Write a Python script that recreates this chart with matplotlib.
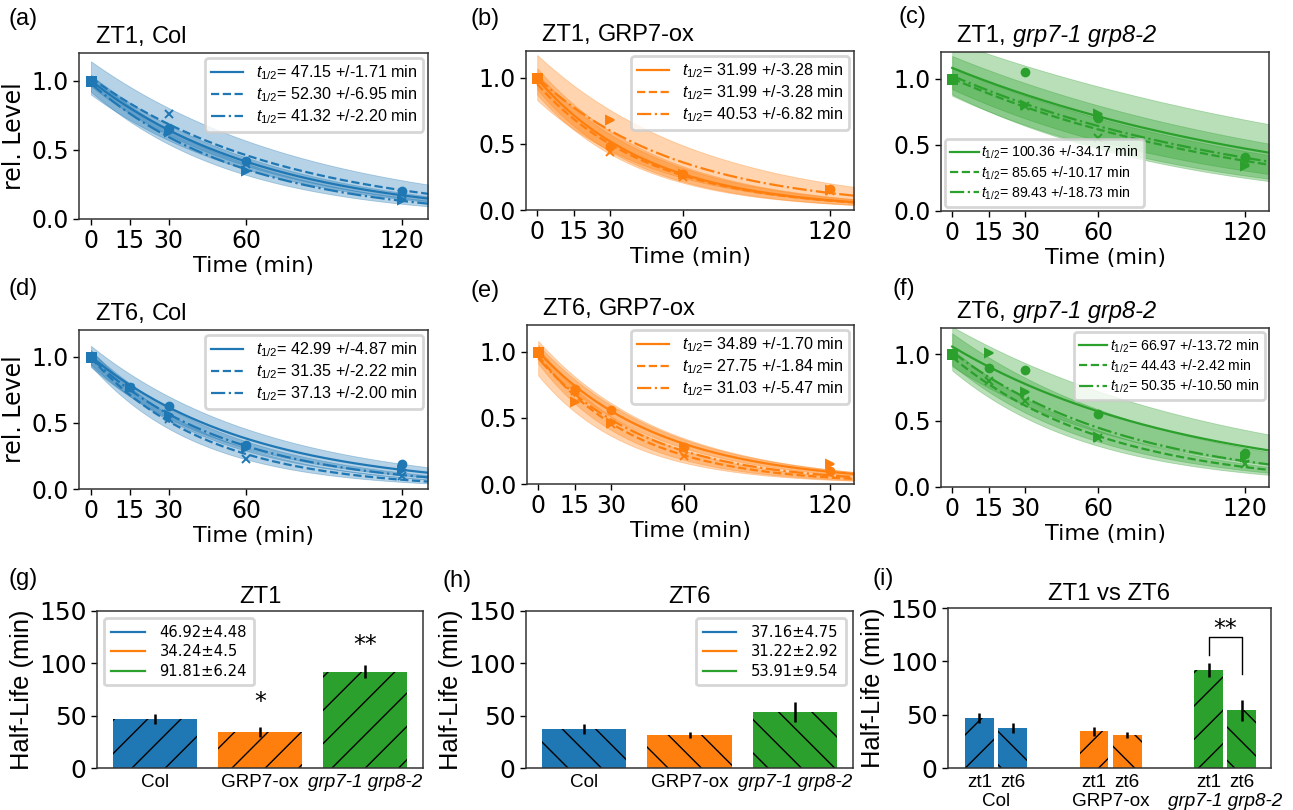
import numpy as np
import matplotlib
matplotlib.use('Agg')
import matplotlib.pyplot as plt
from matplotlib.lines import Line2D

plt.rcParams['mathtext.fontset'] = 'custom'
plt.rcParams['mathtext.rm'] = 'Liberation Sans'
plt.rcParams['mathtext.it'] = 'Liberation Sans:italic'
plt.rcParams['hatch.linewidth'] = 0.5
plt.rcParams['axes.linewidth'] = 0.55
plt.rcParams['axes.edgecolor'] = '#333333'

W, H, DPI = 1293, 810, 200
BLUE, ORANGE, GREEN = '#1f77b4', '#ff7f0e', '#2ca02c'
SANS = 'Liberation Sans'

# sampling times (min)
time_zt1 = [0, 30, 60, 120]
time_zt6 = [0, 15, 30, 60, 120]

# rel. level, one list per replicate (marker o, x, >)
a_level = [[1.0, 0.66, 0.42, 0.20], [1.0, 0.76, 0.40, 0.18], [1.0, 0.63, 0.35, 0.14]]
b_level = [[1.0, 0.48, 0.27, 0.16], [1.0, 0.44, 0.25, 0.14], [1.0, 0.68, 0.27, 0.15]]
c_level = [[1.0, 1.05, 0.70, 0.41], [1.0, 0.79, 0.55, 0.38], [1.0, 0.80, 0.73, 0.34]]
d_level = [[1.0, 0.77, 0.63, 0.33, 0.19], [1.0, 0.76, 0.53, 0.23, 0.10], [1.0, 0.76, 0.56, 0.31, 0.14]]
e_level = [[1.0, 0.72, 0.56, 0.28, 0.10], [1.0, 0.70, 0.45, 0.21, 0.08], [1.0, 0.62, 0.46, 0.28, 0.15]]
f_level = [[1.0, 0.90, 0.88, 0.55, 0.26], [1.0, 0.80, 0.65, 0.37, 0.17], [1.0, 1.01, 0.72, 0.38, 0.23]]

# fitted half-lives +/- error and fitted start level +/- error
a_thalf, a_terr = [47.15, 52.30, 41.32], [1.71, 6.95, 2.20]
b_thalf, b_terr = [31.99, 31.99, 40.53], [3.28, 3.28, 6.82]
c_thalf, c_terr = [100.36, 85.65, 89.43], [34.17, 10.17, 18.73]
d_thalf, d_terr = [42.99, 31.35, 37.13], [4.87, 2.22, 2.00]
e_thalf, e_terr = [34.89, 27.75, 31.03], [1.70, 1.84, 5.47]
f_thalf, f_terr = [66.97, 44.43, 50.35], [13.72, 2.42, 10.50]

a_amp, a_aerr = [1.00, 1.02, 0.98], [0.04, 0.12, 0.06]
b_amp, b_aerr = [0.99, 0.95, 1.00], [0.08, 0.08, 0.17]
c_amp, c_aerr = [1.08, 1.00, 1.02], [0.20, 0.08, 0.15]
d_amp, d_aerr = [1.00, 0.99, 0.99], [0.08, 0.06, 0.05]
e_amp, e_aerr = [1.00, 0.97, 0.95], [0.05, 0.06, 0.13]
f_amp, f_aerr = [1.06, 0.98, 1.02], [0.15, 0.06, 0.14]

# half-life summary (min)
genotypes = ['Col', 'GRP7-ox', 'grp7-1 grp8-2']
zt1_half, zt1_err = [46.92, 34.24, 91.81], [4.48, 4.5, 6.24]
zt6_half, zt6_err = [37.16, 31.22, 53.91], [4.75, 2.92, 9.54]

colors = [BLUE, ORANGE, GREEN]
styles = ['-', '--', '-.']
markers = ['o', 'x', '>']


def px_axes(fig, left, right, top, bottom):
    return fig.add_axes([left / W, 1 - bottom / H, (right - left) / W, (bottom - top) / H])


def decay_panel(ax, t, levels, thalf, terr, amp, aerr, color, zt, geno, ylabel, leg):
    tt = np.linspace(0, 130, 300)
    for i in range(3):
        lo = (amp[i] - aerr[i]) * 0.5 ** (tt / (thalf[i] - terr[i]))
        hi = (amp[i] + aerr[i]) * 0.5 ** (tt / (thalf[i] + terr[i]))
        ax.fill_between(tt, lo, hi, color=color, alpha=0.33, lw=0.3)
    handles = []
    for i in range(3):
        ln, = ax.plot(tt, amp[i] * 0.5 ** (tt / thalf[i]), color=color, ls=styles[i], lw=0.8)
        handles.append(ln)
        ax.plot(t[1:], levels[i][1:], ls='none', marker=markers[i], color=color,
                ms=2.8, mew=0.7)
        ax.plot(t[0], levels[i][0], ls='none', marker='s', color=color, ms=2.8)
    labels = [r'$t_{1/2}$= %.2f +/-%.2f min' % (thalf[i], terr[i]) for i in range(3)]
    ax.legend(handles, labels, prop={'family': SANS, 'size': leg['size']}, loc=leg['loc'],
              handlelength=2.0, handletextpad=leg['pad'], labelspacing=leg['sp'],
              borderpad=0.35, borderaxespad=0.3, framealpha=0.8)
    ax.set_xlim(-4.6, 130)
    ax.set_ylim(0, 1.2)
    ax.set_xticks([0, 15, 30, 60, 120])
    ax.set_yticks([0, 0.5, 1.0])
    ax.tick_params(labelsize=8.5, length=2.2, width=0.5, pad=1.5)
    ax.set_xlabel('Time (min)', fontsize=8, labelpad=1)
    if ylabel:
        ax.set_ylabel('rel. Level', fontsize=8.5, labelpad=2)
    t1 = ax.text(0.05, 1.03, zt + ', ', transform=ax.transAxes, family=SANS, fontsize=8.5,
                 va='bottom', ha='left')
    ax.annotate(geno, xy=(1, 0), xycoords=t1, va='bottom', ha='left', family=SANS,
                fontsize=8.5, style='italic' if geno.startswith('grp') else 'normal')


fig = plt.figure(figsize=(W / DPI, H / DPI), dpi=DPI)

big = {'size': 5.8, 'loc': 'upper right', 'pad': 0.8, 'sp': 0.2}
small_ll = {'size': 5.1, 'loc': 'lower left', 'pad': 0.2, 'sp': 0.2}
small_ur = {'size': 5.1, 'loc': 'upper right', 'pad': 0.2, 'sp': 0.2}

ax_a = px_axes(fig, 79, 428, 53, 219)
decay_panel(ax_a, time_zt1, a_level, a_thalf, a_terr, a_amp, a_aerr, BLUE, 'ZT1', 'Col', True, big)
ax_b = px_axes(fig, 526, 854, 51, 210)
decay_panel(ax_b, time_zt1, b_level, b_thalf, b_terr, b_amp, b_aerr, ORANGE, 'ZT1', 'GRP7-ox', False, big)
ax_c = px_axes(fig, 941, 1269, 52, 211)
decay_panel(ax_c, time_zt1, c_level, c_thalf, c_terr, c_amp, c_aerr, GREEN, 'ZT1', 'grp7-1 grp8-2', False, small_ll)
ax_d = px_axes(fig, 79, 428, 330, 489)
decay_panel(ax_d, time_zt6, d_level, d_thalf, d_terr, d_amp, d_aerr, BLUE, 'ZT6', 'Col', True, big)
ax_e = px_axes(fig, 527, 854, 325, 484)
decay_panel(ax_e, time_zt6, e_level, e_thalf, e_terr, e_amp, e_aerr, ORANGE, 'ZT6', 'GRP7-ox', False, big)
ax_f = px_axes(fig, 941, 1269, 328, 487)
decay_panel(ax_f, time_zt6, f_level, f_thalf, f_terr, f_amp, f_aerr, GREEN, 'ZT6', 'grp7-1 grp8-2', False, small_ur)


def bar_axes_style(ax, title):
    ax.set_ylim(0, 150)
    ax.set_yticks([0, 50, 100, 150])
    ax.tick_params(axis='y', labelsize=9, length=2.2, width=0.5, pad=1.5)
    ax.tick_params(axis='x', length=0, pad=2)
    ax.set_ylabel('Half-Life (min)', family=SANS, fontsize=9.2, labelpad=2)
    ax.set_title(title, family=SANS, fontsize=8.6, pad=3)


def summary_panel(ax, vals, errs, hatch, title, loc):
    x = np.arange(len(genotypes))
    ax.bar(x, vals, width=0.8, color=colors, hatch=hatch * 2, edgecolor='k', linewidth=0)
    ax.errorbar(x, vals, yerr=errs, fmt='none', ecolor='k', elinewidth=0.9, capsize=0)
    ax.set_xlim(-0.55, 2.55)
    ax.set_xticks(x, genotypes, family=SANS, fontsize=6.8)
    ax.get_xticklabels()[2].set_style('italic')
    bar_axes_style(ax, title)
    handles = [Line2D([0], [0], color=c, lw=0.8) for c in colors]
    labels = [f'{v}\u00b1{e}' for v, e in zip(vals, errs)]
    ax.legend(handles, labels, loc=loc, fontsize=5.3, handlelength=2.3, handletextpad=1.0,
              borderpad=0.45, labelspacing=0.3, borderaxespad=0.5)


ax_g = px_axes(fig, 97, 423, 611, 768)
summary_panel(ax_g, zt1_half, zt1_err, '/', 'ZT1', 'upper left')
ax_g.text(1, 52, '*', ha='center', va='bottom', fontsize=8.5)
ax_g.text(2, 106, '**', ha='center', va='bottom', fontsize=8.5)

ax_h = px_axes(fig, 526, 853, 611, 768)
summary_panel(ax_h, zt6_half, zt6_err, '\\', 'ZT6', 'upper right')

ax_i = px_axes(fig, 948, 1271, 608, 768)
g = np.arange(len(genotypes))
off, bw = 0.145, 0.25
ax_i.bar(g - off, zt1_half, width=bw, color=colors, hatch='//', edgecolor='k', linewidth=0)
ax_i.bar(g + off, zt6_half, width=bw, color=colors, hatch='\\\\', edgecolor='k', linewidth=0)
ax_i.errorbar(g - off, zt1_half, yerr=zt1_err, fmt='none', ecolor='k', elinewidth=0.9, capsize=0)
ax_i.errorbar(g + off, zt6_half, yerr=zt6_err, fmt='none', ecolor='k', elinewidth=0.9, capsize=0)
ax_i.set_xlim(-0.42, 2.40)
ticks = np.sort(np.concatenate([g - off, g + off]))
ax_i.set_xticks(ticks, ['zt1', 'zt6'] * 3, family=SANS, fontsize=6.8)
for gi, name in enumerate(genotypes):
    ax_i.annotate(name, xy=(gi, 0), xycoords=('data', 'axes fraction'), xytext=(0, -9),
                  textcoords='offset points', ha='center', va='top', family=SANS, fontsize=6.8,
                  style='italic' if name.startswith('grp') else 'normal')
bar_axes_style(ax_i, 'ZT1 vs ZT6')
ax_i.plot([2 - off, 2 - off, 2 + off, 2 + off], [106, 122.5, 122.5, 88], color='k', lw=0.5)
ax_i.text(2, 119, '**', ha='center', va='bottom', fontsize=8.5)

# panel letters
letters = ['(a)', '(b)', '(c)', '(d)', '(e)', '(f)', '(g)', '(h)', '(i)']
letter_xy = [(8, 8), (470, 8), (899, 6), (8, 278), (470, 280), (892, 278),
             (8, 568), (443, 570), (872, 568)]
for s, (lx, ly) in zip(letters, letter_xy):
    fig.text(lx / W, 1 - ly / H, s, family=SANS, fontsize=8.5, ha='left', va='top')

fig.savefig('out.png', dpi=DPI)
